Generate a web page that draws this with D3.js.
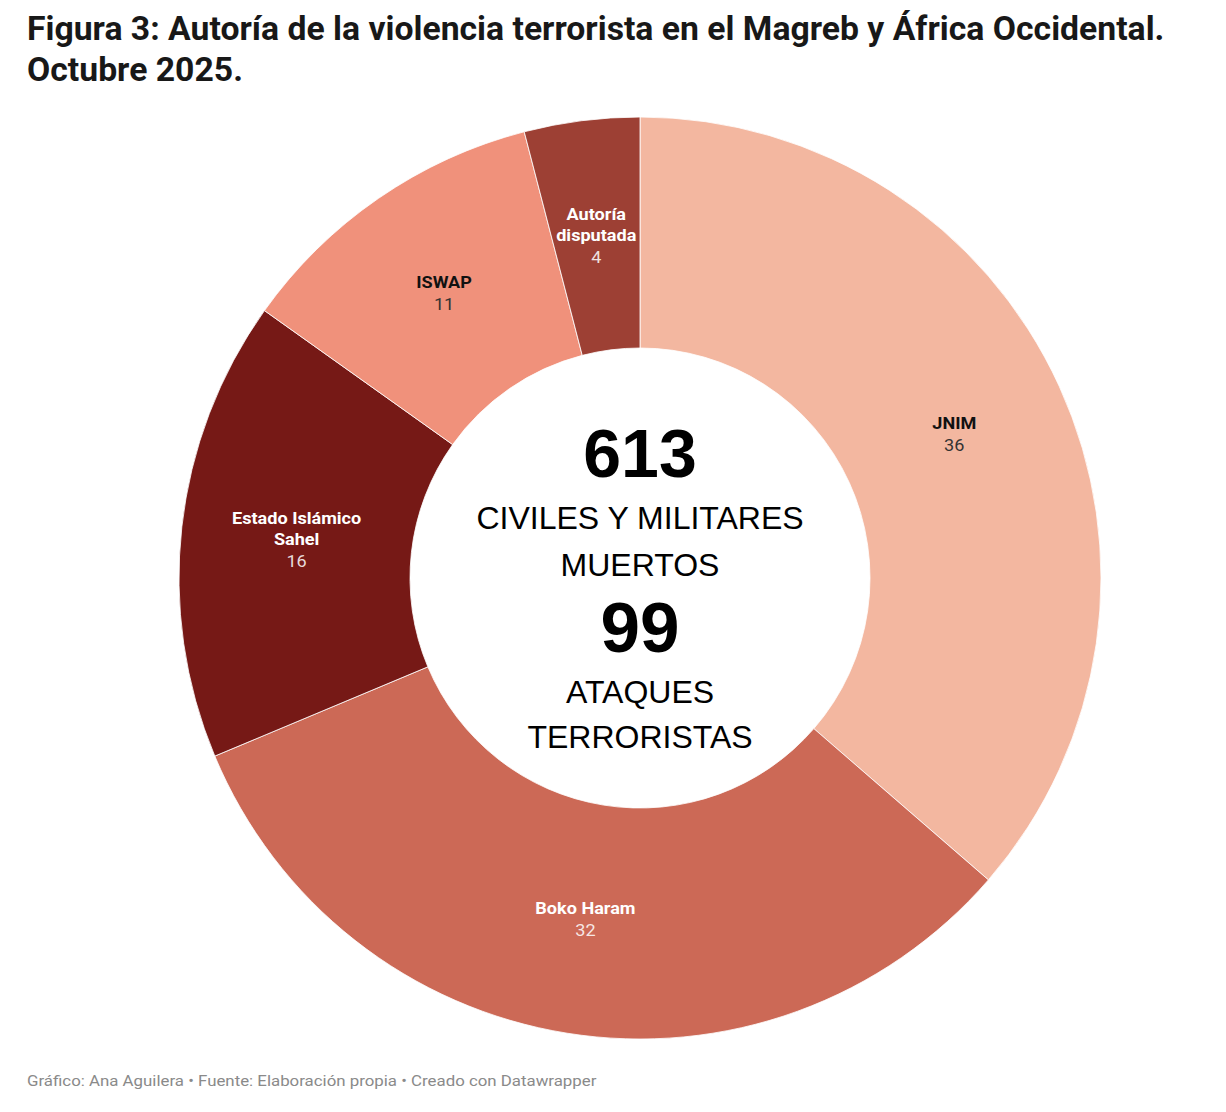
<!DOCTYPE html>
<html>
<head>
<meta charset="utf-8">
<script src="https://cdn.jsdelivr.net/npm/d3@7"></script>
<style>
  body { margin: 0; background: #fff; }
  svg { display: block; }
</style>
</head>
<body>
<div id="chart"></div>
<script>
// data
const categories = ['JNIM', 'Boko Haram', 'Estado Islámico\nSahel', 'ISWAP', 'Autoría\ndisputada'];
const values = [36, 32, 16, 11, 4];
const palette = ['#f3b7a0', '#cc6956', '#761916', '#f0917b', '#9d4034'];
const darkSlices = ['Boko Haram', 'Estado Islámico\nSahel', 'Autoría\ndisputada'];
const centerStats = [613, 99];
const centerLabels = [['CIVILES Y MILITARES', 'MUERTOS'], ['ATAQUES', 'TERRORISTAS']];
const titleLines = ['Figura 3: Autoría de la violencia terrorista en el Magreb y África Occidental.', 'Octubre 2025.'];
const footer = 'Gráfico: Ana Aguilera • Fuente: Elaboración propia • Creado con Datawrapper';

const width = 1226, height = 1112;
const svg = d3.select('#chart').append('svg').attr('width', width).attr('height', height);

// title, squeezed to the width it has in the original
const titleG = svg.append('g').attr('transform', 'translate(27,0)');
const titleText = titleG.selectAll('text').data(titleLines).join('text')
  .attr('y', (d, i) => 40 + i * 41)
  .style('font-family', 'Roboto, sans-serif')
  .style('font-weight', 700)
  .style('font-size', '33px')
  .attr('fill', '#181818')
  .text(d => d);
const w0 = titleText.node().getComputedTextLength();
const sx = 1138 / w0;
titleText.attr('transform', `scale(${sx},1)`);

// donut
const cx = 640, cy = 578, outerR = 461, innerR = 230;
const color = d3.scaleOrdinal().domain(categories).range(palette);
const pie = d3.pie().sort(null).value(d => d.value);
const arc = d3.arc().innerRadius(innerR).outerRadius(outerR);
const rows = categories.map((c, i) => ({ name: c, value: values[i] }));
const arcs = pie(rows);

const g = svg.append('g').attr('transform', `translate(${cx},${cy})`);
g.selectAll('path.slice').data(arcs).join('path')
  .attr('class', 'slice')
  .attr('d', arc)
  .attr('fill', d => color(d.data.name))
  .attr('stroke', 'rgba(255,255,255,0.8)')
  .attr('stroke-width', 1);

const lineH = 21.5;
const labelG = g.selectAll('g.label').data(arcs).join('g')
  .attr('class', 'label')
  .attr('transform', d => `translate(${arc.centroid(d)}) scale(1.13,1)`);

labelG.each(function(d) {
  const names = d.data.name.split('\n');
  const lines = names.map(t => ({ t, bold: true })).concat([{ t: String(d.data.value), bold: false }]);
  const dark = darkSlices.includes(d.data.name);
  const n = lines.length;
  d3.select(this).selectAll('text').data(lines).join('text')
    .attr('text-anchor', 'middle')
    .attr('y', (l, i) => (i - (n - 1) / 2) * lineH)
    .attr('dy', '0.36em')
    .style('font-family', 'Roboto, sans-serif')
    .style('font-size', '16px')
    .style('font-weight', l => l.bold ? 700 : 400)
    .attr('fill', l => dark ? (l.bold ? '#fff' : 'rgba(255,255,255,0.85)') : (l.bold ? '#111' : '#333'))
    .text(l => l.t);
});

// centre text
const centre = g.append('g').style('font-family', '"Liberation Sans", Arial, sans-serif').attr('text-anchor', 'middle').attr('fill', '#000');
centre.append('text').attr('y', 477 - cy).style('font-size', '68px').style('font-weight', 700).text(centerStats[0]);
centre.selectAll('text.l1').data(centerLabels[0]).join('text').attr('class', 'l1')
  .attr('y', (d, i) => 529 - cy + i * 47).style('font-size', '32px').text(d => d);
centre.append('text').attr('y', 652 - cy).style('font-size', '71px').style('font-weight', 700).text(centerStats[1]);
centre.selectAll('text.l2').data(centerLabels[1]).join('text').attr('class', 'l2')
  .attr('y', (d, i) => 703 - cy + i * 45).style('font-size', '32px').text(d => d);

// footer
const foot = svg.append('text')
  .attr('x', 27).attr('y', 1086)
  .style('font-family', 'Roboto, sans-serif')
  .style('font-size', '15px')
  .attr('fill', '#8a8a8a')
  .text(footer);
const fw = foot.node().getComputedTextLength();
foot.attr('transform', `translate(27,0) scale(${570 / fw},1) translate(-27,0)`);
</script>
</body>
</html>
